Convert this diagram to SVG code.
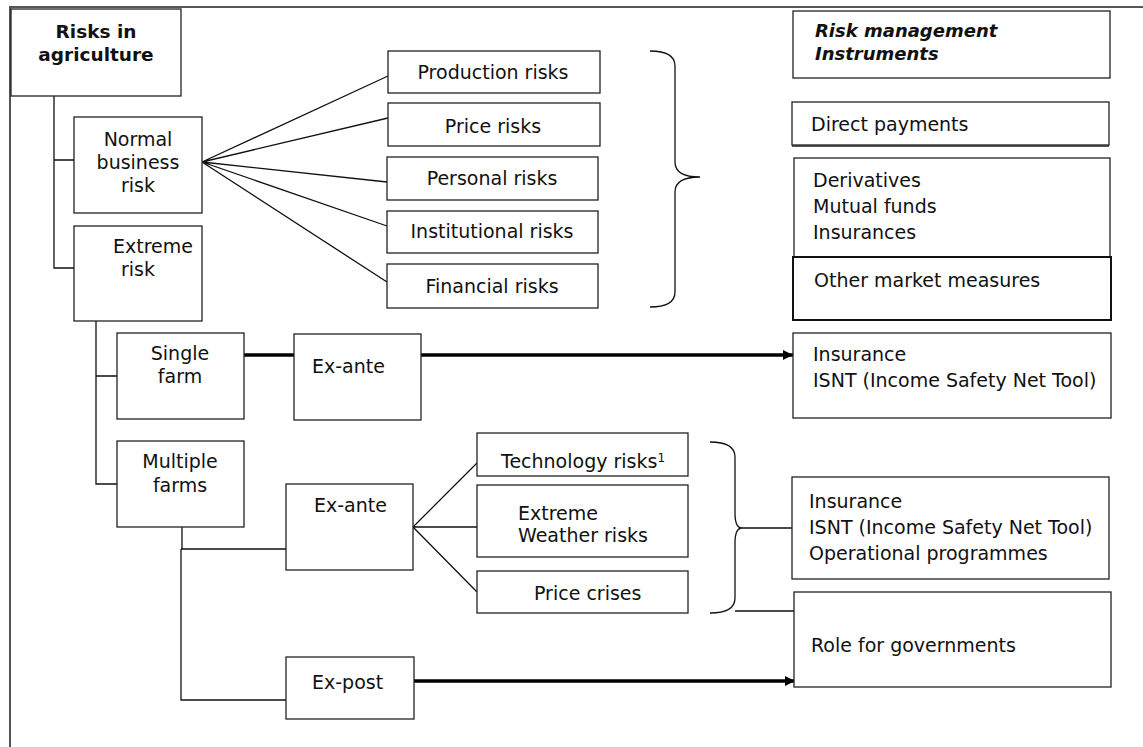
<svg xmlns="http://www.w3.org/2000/svg" width="1143" height="747" viewBox="0 0 1143 747">
<style>
.box{fill:#fff;stroke:#222;stroke-width:1.3}
.boxb{fill:#fff;stroke:#111;stroke-width:2}
.t{font-family:"DejaVu Sans",Verdana,sans-serif;font-size:19px;fill:#111}
.b{font-weight:bold;font-size:18.5px}
.bi{font-weight:bold;font-style:italic;font-size:18px}
.c{text-anchor:middle}
.ln{stroke:#111;stroke-width:1.3;fill:none}
.thick{stroke:#000;stroke-width:3.5;fill:none}
.frame{stroke:#555;stroke-width:2;fill:none}
</style>
<defs>
<marker id="arr" markerUnits="userSpaceOnUse" markerWidth="10" markerHeight="10" refX="10" refY="5" orient="auto">
<path d="M0,0 L10,5 L0,10 z" fill="#000"/>
</marker>
</defs>
<rect width="1143" height="747" fill="#fff"/>
<path class="frame" d="M10,747 L10,7 L1143,7"/>

<g id="connectors">
<path class="ln" d="M54,96 L54,268 L74,268 M54,160 L74,160"/>
<path class="ln" d="M202,162 L388,76 M202,162 L388,118 M202,162 L387,182 M202,162 L387,226 M202,162 L387,282"/>
<path class="ln" d="M650,51 Q675,51 675,66 L675,162 Q675,177 700,177 Q675,177 675,192 L675,292 Q675,307 650,307"/>
<path class="ln" d="M96,321 L96,484 L117,484 M96,376 L117,376"/>
<path class="thick" d="M244,355 L294,355"/>
<path class="thick" d="M421,355 L793,355" marker-end="url(#arr)"/>
<path class="ln" d="M182,527 L182,549 M181,549 L286,549 M181,549 L181,700 L286,700"/>
<path class="ln" d="M413,527 L477,463 M413,527 L477,527 M413,527 L477,592"/>
<path class="ln" d="M710,442 Q735,442 735,457 L735,513 Q735,528 742,528 Q735,528 735,543 L735,598 Q735,613 710,613"/>
<path class="ln" d="M742,528 L792,528 M735,611 L794,611"/>
<path class="thick" d="M414,681 L795,681" marker-end="url(#arr)"/>
</g>

<g id="root">
<rect class="box" x="11" y="9" width="170" height="87"/>
<text class="t b c" x="96" y="38">Risks in</text>
<text class="t b c" x="96" y="61">agriculture</text>
</g>

<g id="normal">
<rect class="box" x="74" y="117" width="128" height="96"/>
<text class="t c" x="138" y="146">Normal</text>
<text class="t c" x="138" y="169">business</text>
<text class="t c" x="138" y="192">risk</text>
</g>

<g id="extreme">
<rect class="box" x="74" y="226" width="128" height="95"/>
<text class="t" x="113" y="253">Extreme</text>
<text class="t" x="121" y="276">risk</text>
</g>

<g id="production">
<rect class="box" x="388" y="51" width="212" height="42"/>
<text class="t c" x="493" y="79">Production risks</text>
</g>
<g id="price">
<rect class="box" x="388" y="103" width="212" height="43"/>
<text class="t c" x="493" y="133">Price risks</text>
</g>
<g id="personal">
<rect class="box" x="387" y="157" width="211" height="43"/>
<text class="t c" x="492" y="185">Personal risks</text>
</g>
<g id="institutional">
<rect class="box" x="387" y="211" width="211" height="42"/>
<text class="t c" x="492" y="238">Institutional risks</text>
</g>
<g id="financial">
<rect class="box" x="387" y="264" width="211" height="44"/>
<text class="t c" x="492" y="293">Financial risks</text>
</g>

<g id="rmi">
<rect class="box" x="793" y="11" width="317" height="67"/>
<text class="t bi" x="815" y="37">Risk management</text>
<text class="t bi" x="815" y="60">Instruments</text>
</g>

<g id="direct">
<rect class="box" x="792" y="102" width="317" height="43"/>
<line x1="792" y1="146" x2="1109" y2="146" stroke="#222" stroke-width="1.3"/>
<text class="t" x="811" y="131">Direct payments</text>
</g>

<g id="derivatives">
<rect class="box" x="794" y="158" width="316" height="99"/>
<text class="t" x="813" y="187">Derivatives</text>
<text class="t" x="813" y="213">Mutual funds</text>
<text class="t" x="813" y="239">Insurances</text>
</g>

<g id="othermarket">
<rect class="boxb" x="793" y="257" width="318" height="63"/>
<text class="t" x="814" y="287">Other market measures</text>
</g>

<g id="single">
<rect class="box" x="117" y="333" width="127" height="86"/>
<text class="t c" x="180" y="360">Single</text>
<text class="t c" x="180" y="383">farm</text>
</g>

<g id="exante1">
<rect class="box" x="294" y="334" width="127" height="86"/>
<text class="t" x="312" y="373">Ex-ante</text>
</g>

<g id="insurance1">
<rect class="box" x="793" y="333" width="318" height="85"/>
<text class="t" x="813" y="361">Insurance</text>
<text class="t" x="813" y="387">ISNT (Income Safety Net Tool)</text>
</g>

<g id="multiple">
<rect class="box" x="117" y="441" width="127" height="86"/>
<text class="t c" x="180" y="468">Multiple</text>
<text class="t c" x="180" y="492">farms</text>
</g>

<g id="exante2">
<rect class="box" x="286" y="484" width="127" height="86"/>
<text class="t" x="314" y="512">Ex-ante</text>
</g>

<g id="technology">
<rect class="box" x="477" y="433" width="211" height="43"/>
<text class="t" x="501" y="468">Technology risks<tspan font-size="12" dy="-6">1</tspan></text>
</g>

<g id="weather">
<rect class="box" x="477" y="485" width="211" height="72"/>
<text class="t" x="518" y="520">Extreme</text>
<text class="t" x="518" y="542">Weather risks</text>
</g>

<g id="pricecrises">
<rect class="box" x="477" y="571" width="211" height="42"/>
<text class="t" x="534" y="600">Price crises</text>
</g>

<g id="insurance2">
<rect class="box" x="792" y="477" width="317" height="102"/>
<text class="t" x="809" y="508">Insurance</text>
<text class="t" x="809" y="534">ISNT (Income Safety Net Tool)</text>
<text class="t" x="809" y="560">Operational programmes</text>
</g>

<g id="role">
<rect class="box" x="794" y="592" width="317" height="95"/>
<text class="t" x="811" y="652">Role for governments</text>
</g>

<g id="expost">
<rect class="box" x="286" y="657" width="128" height="62"/>
<text class="t" x="312" y="689">Ex-post</text>
</g>
</svg>
